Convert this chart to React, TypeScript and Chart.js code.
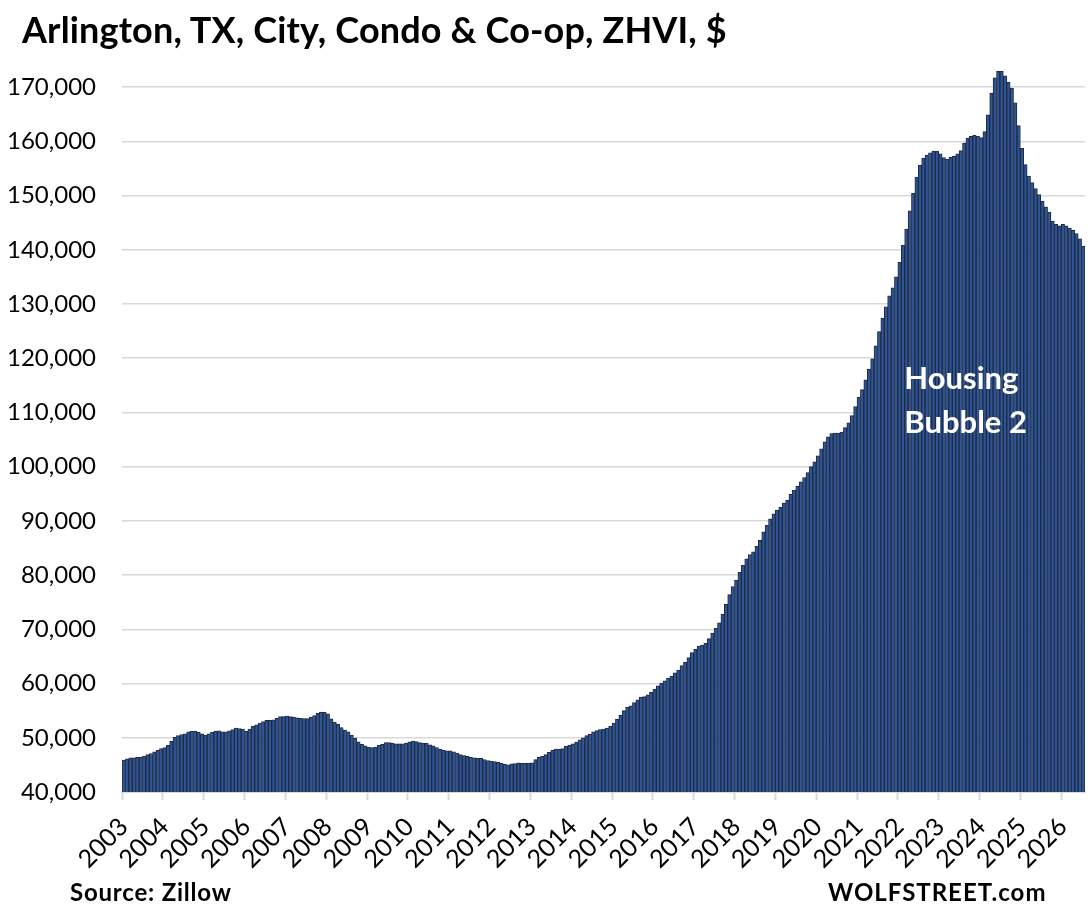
import React, { useEffect, useRef } from "react";
import { Chart, registerables } from "chart.js";

Chart.register(...registerables);

const startYear = 2003;
const yearLabels = ["2003","2004","2005","2006","2007","2008","2009","2010","2011","2012","2013","2014","2015","2016","2017","2018","2019","2020","2021","2022","2023","2024","2025","2026"];

// Monthly ZHVI, thousands of $, Jan 2003 .. Jul 2026
const v2003 = [45.9, 46.1, 46.3, 46.3, 46.4, 46.4, 46.6, 46.9, 47.1, 47.4, 47.7, 48.0];
const v2004 = [48.2, 48.6, 49.4, 50.1, 50.4, 50.6, 50.75, 51.1, 51.2, 51.2, 51.0, 50.75];
const v2005 = [50.5, 50.75, 51.0, 51.25, 51.3, 51.1, 51.1, 51.3, 51.5, 51.8, 51.7, 51.6];
const v2006 = [51.25, 51.6, 52.1, 52.4, 52.7, 53.0, 53.2, 53.2, 53.3, 53.6, 53.9, 53.9];
const v2007 = [54.0, 53.9, 53.8, 53.7, 53.6, 53.55, 53.55, 53.75, 54.1, 54.5, 54.75, 54.7];
const v2008 = [54.4, 53.5, 52.9, 52.5, 51.9, 51.4, 51.1, 50.5, 49.9, 49.25, 48.8, 48.5];
const v2009 = [48.3, 48.2, 48.3, 48.6, 48.8, 49.1, 49.1, 49.0, 48.9, 48.9, 48.9, 49.0];
const v2010 = [49.25, 49.4, 49.3, 49.1, 49.0, 49.0, 48.7, 48.5, 48.2, 47.9, 47.75, 47.6];
const v2011 = [47.6, 47.4, 47.2, 46.9, 46.7, 46.6, 46.4, 46.3, 46.2, 46.2, 46.0, 45.8];
const v2012 = [45.7, 45.6, 45.5, 45.3, 45.1, 45.0, 45.2, 45.25, 45.4, 45.3, 45.3, 45.3];
const v2013 = [45.4, 46.0, 46.4, 46.6, 46.9, 47.3, 47.7, 47.9, 47.9, 48.0, 48.4, 48.65];
const v2014 = [48.9, 49.2, 49.6, 50.0, 50.4, 50.7, 51.1, 51.35, 51.5, 51.6, 51.8, 52.1];
const v2015 = [52.7, 53.4, 54.2, 55.0, 55.6, 55.9, 56.5, 57.0, 57.5, 57.6, 57.9, 58.4];
const v2016 = [59.0, 59.6, 60.1, 60.5, 61.0, 61.4, 62.0, 62.5, 63.3, 63.9, 64.8, 65.7];
const v2017 = [66.3, 66.9, 67.1, 67.4, 68.3, 69.3, 70.2, 71.2, 72.8, 74.6, 76.4, 77.9];
const v2018 = [79.1, 80.5, 81.8, 83.0, 83.8, 84.3, 85.3, 86.4, 88.0, 89.2, 90.4, 91.3];
const v2019 = [92.0, 92.5, 93.3, 93.8, 94.9, 95.7, 96.4, 97.2, 98.0, 98.9, 100.0, 100.9];
const v2020 = [102.0, 103.3, 104.6, 105.5, 106.1, 106.2, 106.2, 106.4, 107.2, 108.1, 109.4, 111.1];
const v2021 = [112.8, 114.2, 116.0, 118.0, 119.9, 122.3, 124.9, 127.4, 129.5, 131.5, 133.0, 135.0];
const v2022 = [137.7, 140.8, 143.8, 147.2, 150.4, 153.4, 155.6, 156.9, 157.4, 157.9, 158.2, 158.2];
const v2023 = [157.7, 157.0, 156.7, 157.1, 157.3, 157.7, 158.3, 159.7, 160.6, 160.9, 161.1, 160.9];
const v2024 = [160.7, 161.8, 164.9, 168.9, 171.7, 172.9, 172.9, 172.1, 170.9, 169.8, 167.1, 162.9];
const v2025 = [158.7, 155.7, 153.6, 152.4, 151.3, 150.2, 149.0, 147.9, 146.9, 145.3, 144.7, 144.4];
const v2026 = [144.7, 144.4, 144.0, 143.6, 143.0, 142.0, 140.7];

const yearly = [v2003, v2004, v2005, v2006, v2007, v2008, v2009, v2010, v2011, v2012, v2013, v2014, v2015, v2016, v2017, v2018, v2019, v2020, v2021, v2022, v2023, v2024, v2025, v2026];

const yTicks = [40000, 50000, 60000, 70000, 80000, 90000, 100000, 110000, 120000, 130000, 140000, 150000, 160000, 170000];

const title = "Arlington, TX, City, Condo & Co-op, ZHVI, $";
const source = "Source: Zillow";
const brand = "WOLFSTREET.com";
const noteLines = ["Housing", "Bubble 2"];

const FONT = "Lato, 'Open Sans', sans-serif";

export default function App() {
  const ref = useRef<HTMLCanvasElement | null>(null);

  useEffect(() => {
    const labels: string[] = [];
    const data: number[] = [];
    yearly.forEach((arr, yi) => {
      arr.forEach((v, mi) => {
        labels.push(`${startYear + yi}-${mi + 1}`);
        data.push(Math.round(v * 1000));
      });
    });

    const notePlugin = {
      id: "note",
      afterDatasetsDraw(chart: any) {
        const { ctx, scales } = chart;
        const xs = scales.x;
        const ys = scales.y;
        const x = xs.getPixelForValue(230) - 2;
        ctx.save();
        ctx.fillStyle = "#ffffff";
        ctx.font = `bold 31px ${FONT}`;
        ctx.textAlign = "left";
        ctx.textBaseline = "alphabetic";
        ctx.fillText(noteLines[0], x, ys.getPixelForValue(114300));
        ctx.fillText(noteLines[1], x, ys.getPixelForValue(106300));
        ctx.restore();
      },
    };

    const chart = new Chart(ref.current as HTMLCanvasElement, {
      type: "bar",
      data: {
        labels,
        datasets: [
          {
            data,
            backgroundColor: "#2F5597",
            borderColor: "#1E2A40",
            borderWidth: 1,
            categoryPercentage: 1,
            barPercentage: 1,
          },
        ],
      },
      options: {
        responsive: false,
        animation: false,
        devicePixelRatio: 1,
        layout: { padding: { left: 0, right: 6, top: 60, bottom: 41 } },
        plugins: { legend: { display: false }, tooltip: { enabled: false }, title: { display: false } },
        scales: {
          x: {
            offset: true,
            afterFit: (s: any) => { s.height = 80; s.paddingLeft = 0; s.paddingRight = 0; },
            grid: {
              display: true,
              offset: true,
              drawOnChartArea: false,
              drawTicks: true,
              tickLength: 8,
              tickWidth: 2,
              tickColor: (c: any) => (c.index % 12 === 0 ? "#d9d9d9" : "rgba(0,0,0,0)"),
              color: "rgba(0,0,0,0)",
            },
            border: { display: true, color: "#d9d9d9", width: 2 },
            ticks: {
              autoSkip: false,
              maxRotation: 45,
              minRotation: 45,
              padding: 12,
              color: "#000",
              font: { family: FONT, size: 25 },
              callback: (_v: any, i: number) => (i % 12 === 0 ? yearLabels[i / 12] : ""),
            },
          },
          y: {
            min: 40000,
            max: 175000,
            afterFit: (s: any) => { s.width = 122; },
            afterBuildTicks: (s: any) => {
              s.ticks = yTicks.map((v) => ({ value: v }));
            },
            grid: { color: "#d9d9d9", lineWidth: 1.5, drawTicks: false },
            border: { display: false },
            ticks: {
              padding: 26,
              color: "#000",
              font: { family: FONT, size: 24 },
              callback: (v: any) => Number(v).toLocaleString("en-US"),
            },
          },
        },
      },
      plugins: [notePlugin],
    });
    return () => chart.destroy();
  }, []);

  return (
    <div style={{ position: "absolute", left: 0, top: 0, width: 1091, height: 913, background: "#fff", overflow: "hidden" }}>
      <canvas ref={ref} width={1091} height={913} style={{ position: "absolute", left: 0, top: 0 }} />
      <div style={{ position: "absolute", left: 22, top: 11, fontFamily: FONT, fontWeight: 700, fontSize: 36, lineHeight: "36px", letterSpacing: 0.15, color: "#000", whiteSpace: "nowrap" }}>{title}</div>
      <div style={{ position: "absolute", left: 70, top: 880, fontFamily: FONT, fontWeight: 700, fontSize: 24, lineHeight: "24px", letterSpacing: 0.8, color: "#000", whiteSpace: "nowrap" }}>{source}</div>
      <div style={{ position: "absolute", left: 828, top: 880, fontFamily: FONT, fontWeight: 700, fontSize: 24, lineHeight: "24px", letterSpacing: 1, color: "#000", whiteSpace: "nowrap" }}>{brand}</div>
    </div>
  );
}
